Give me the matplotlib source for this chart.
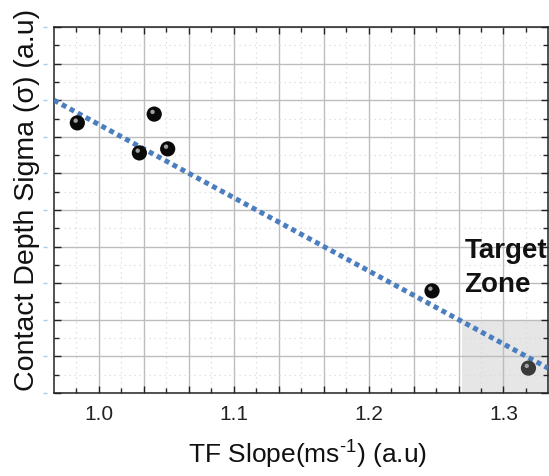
import numpy as np
import matplotlib
matplotlib.use("Agg")
import matplotlib.pyplot as plt
from matplotlib.ticker import MultipleLocator, FuncFormatter
from matplotlib.transforms import ScaledTranslation

# ---- data ----
tf_slope = [0.984, 1.041, 1.030, 1.051, 1.247, 1.3185]
depth_sigma = [7.38, 7.62, 6.56, 6.67, 2.79, 0.68]
point_colors = ["#0a0a0a", "#0a0a0a", "#0a0a0a", "#0a0a0a", "#0a0a0a", "#3a3a3a"]
trend_x = [0.9667, 1.333]
trend_y = [8.0, 0.68]
zone_x = [1.269, 1.333]
zone_y = [0.0, 2.0]
xlim = (0.9667, 1.333)
ylim = (0.0, 10.0)
xlabel = "TF Slope(ms$^{\\text{-}1}$) (a.u)"
ylabel = "Contact Depth Sigma (\u03c3) (a.u)"
zone_text = ["Target", "Zone"]

plt.rcParams["font.family"] = ["Liberation Sans", "DejaVu Sans"]
plt.rcParams["mathtext.fontset"] = "custom"
plt.rcParams["mathtext.rm"] = "Liberation Sans"
plt.rcParams["mathtext.it"] = "Liberation Sans:italic"

W, H = 549, 476
fig = plt.figure(figsize=(W / 100, H / 100), dpi=100)
ax = fig.add_axes([54 / W, 1 - 393 / H, (548 - 54) / W, (393 - 27) / H])

ax.set_xlim(*xlim)
ax.set_ylim(*ylim)

# target zone shading
ax.fill_between(zone_x, zone_y[0], zone_y[1], color="#e6e6e6", lw=0, zorder=0.2)

# grid
ax.set_axisbelow(True)
ax.xaxis.set_major_locator(MultipleLocator(1 / 30))
ax.xaxis.set_minor_locator(MultipleLocator(1 / 60))
ax.yaxis.set_major_locator(MultipleLocator(1))
ax.yaxis.set_minor_locator(MultipleLocator(0.5))


def xfmt(v, pos):
    k = int(round(v * 30))
    if k % 3 == 0:
        return f"{v:.1f}"
    return ""


ax.xaxis.set_major_formatter(FuncFormatter(xfmt))
ax.yaxis.set_major_formatter(FuncFormatter(lambda v, p: ""))
ax.grid(which="major", color="#bdbdbd", lw=1.0, ls="-")
ax.grid(which="minor", color="#dadada", lw=0.9, ls=(0, (1, 3)))

for s in ax.spines.values():
    s.set_color("#222222")
    s.set_linewidth(1.1)

ax.tick_params(which="both", direction="in", top=True, right=True, colors="#222222")
ax.tick_params(which="major", length=5, width=1.0, labelsize=15, pad=9, labelcolor="#222222")
ax.tick_params(which="minor", length=3.5, width=1.0)

# light blue outside ticks on the left
sec = ax.secondary_yaxis(-0.018)
sec.spines["left"].set_visible(False)
sec.yaxis.set_major_locator(MultipleLocator(1))
sec.yaxis.set_major_formatter(FuncFormatter(lambda v, p: ""))
sec.tick_params(which="major", direction="inout", length=3, width=1.0, colors="#a8cbe8")
sec.tick_params(which="minor", length=0)

# trend line
ax.plot(trend_x, trend_y, color="#4a7ebf", lw=3.6, ls=(0, (1.0, 0.8)),
        dash_capstyle="butt", zorder=3)

# sphere markers
ax.scatter(tf_slope, depth_sigma, s=120, c=point_colors, edgecolors="none", zorder=4)
hl = ax.transData + ScaledTranslation(-1.2 / 72, 1.6 / 72, fig.dpi_scale_trans)
ax.scatter(tf_slope, depth_sigma, s=10, c="#a0a0a0", edgecolors="none", zorder=5,
           transform=hl)

# target zone text
ax.text(1.271, 3.69, zone_text[0], fontsize=20, fontweight="bold", va="baseline",
        ha="left", color="#111111", zorder=6)
ax.text(1.271, 2.76, zone_text[1], fontsize=20, fontweight="bold", va="baseline",
        ha="left", color="#111111", zorder=6)

# axis labels
fig.text(308 / W, 1 - 464 / H, xlabel, fontsize=19, ha="center", va="baseline",
         color="#111111")
fig.text(27 / W, 1 - 200 / H, ylabel, fontsize=20.5, rotation=90, ha="center",
         va="center", color="#111111")

fig.savefig("out.png", dpi=100)
